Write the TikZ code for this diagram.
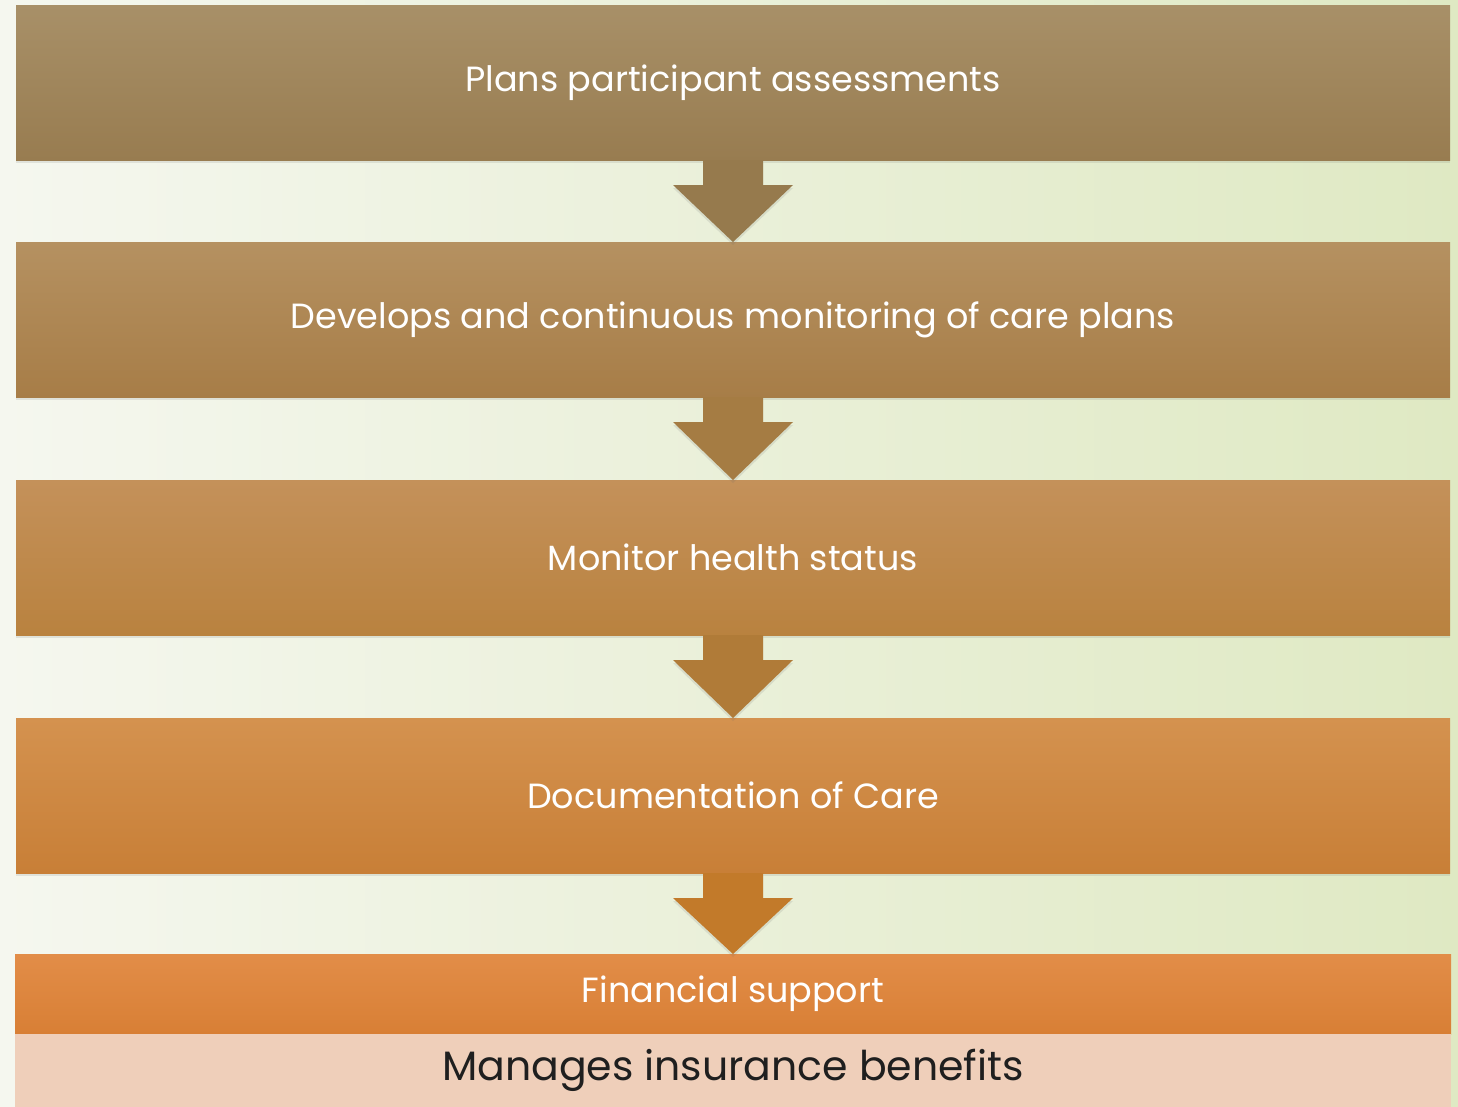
\documentclass[tikz,border=0pt]{standalone}
\usepackage{fontspec}
\setmainfont{Poppins}
\usetikzlibrary{positioning,shadows}
\definecolor{bgleft}{HTML}{F5F7EF}
\definecolor{bgmid}{HTML}{FDFDFB}
\definecolor{bgright}{HTML}{DFE9C3}
\definecolor{planstop}{HTML}{A89068}
\definecolor{plansbot}{HTML}{987C50}
\definecolor{devtop}{HTML}{B59161}
\definecolor{devbot}{HTML}{A77D47}
\definecolor{montop}{HTML}{C4915A}
\definecolor{monbot}{HTML}{B9823F}
\definecolor{doctop}{HTML}{D4924F}
\definecolor{docbot}{HTML}{C87F37}
\definecolor{fintop}{HTML}{E28D48}
\definecolor{finbot}{HTML}{D87F35}
\definecolor{benefill}{HTML}{EFCFBA}
\definecolor{arrowA}{HTML}{967A4D}
\definecolor{arrowB}{HTML}{A57C43}
\definecolor{arrowC}{HTML}{B07B38}
\definecolor{arrowE}{HTML}{C27A2A}
\tikzset{
    every node/.style = {
        inner sep = 0pt,
        outer sep = 0pt
    },
    soft shadow/.style = {
        drop shadow={shadow xshift=0pt,shadow yshift=-3pt,opacity=0.14,fill=black!60}
    },
    stepbox/.style = {
        rectangle,
        minimum width = 1434pt,
        minimum height = 155pt,
        text = white,
        font = \fontsize{35}{42}\selectfont,
        soft shadow
    },
    finbox/.style = {
        rectangle,
        minimum width = 1436pt,
        minimum height = 80pt,
        text = white,
        font = \fontsize{35}{42}\selectfont,
        top color = fintop,
        bottom color = finbot
    },
    benefitbox/.style = {
        rectangle,
        minimum width = 1436pt,
        minimum height = 73pt,
        fill = benefill,
        text = black!88,
        font = \fontsize{41}{48}\selectfont
    },
    blockarrow/.style = {
        soft shadow
    }
}
\begin{document}
\begin{tikzpicture}[x=1pt, y=1pt]
    % background
    \useasboundingbox (0,0) rectangle (1458,-1106);
    \shade [left color=bgleft, middle color=bgmid, right color=bgright]
        (0,0) rectangle (1458,-1106);

    % steps
    \node [stepbox, top color=planstop, bottom color=plansbot]
        (plans) at (733,-82.5) {Plans participant assessments};
    \node [stepbox, top color=devtop, bottom color=devbot, below=82pt of plans]
        (develops) {Develops and continuous monitoring of care plans};
    \node [stepbox, top color=montop, bottom color=monbot, below=83pt of develops]
        (monitor) {Monitor health status};
    \node [stepbox, top color=doctop, bottom color=docbot, below=83pt of monitor]
        (documentation) {Documentation of Care};
    \node [finbox, below=81pt of documentation]
        (financial) {Financial support};
    \node [benefitbox, below=0pt of financial]
        (benefits) {Manages insurance benefits};

    % block arrows between steps
    \foreach \from/\to/\col in {plans/develops/arrowA,
                                develops/monitor/arrowB,
                                monitor/documentation/arrowC,
                                documentation/financial/arrowE}{
        \fill [\col, blockarrow]
            ([xshift=-30pt]\from.south)
            -- ([xshift=-30pt, yshift=-25pt]\from.south)
            -- ([xshift=-60pt, yshift=-25pt]\from.south)
            -- (\to.north)
            -- ([xshift=60pt, yshift=-25pt]\from.south)
            -- ([xshift=30pt, yshift=-25pt]\from.south)
            -- ([xshift=30pt]\from.south)
            -- cycle;
    }
\end{tikzpicture}
\end{document}
